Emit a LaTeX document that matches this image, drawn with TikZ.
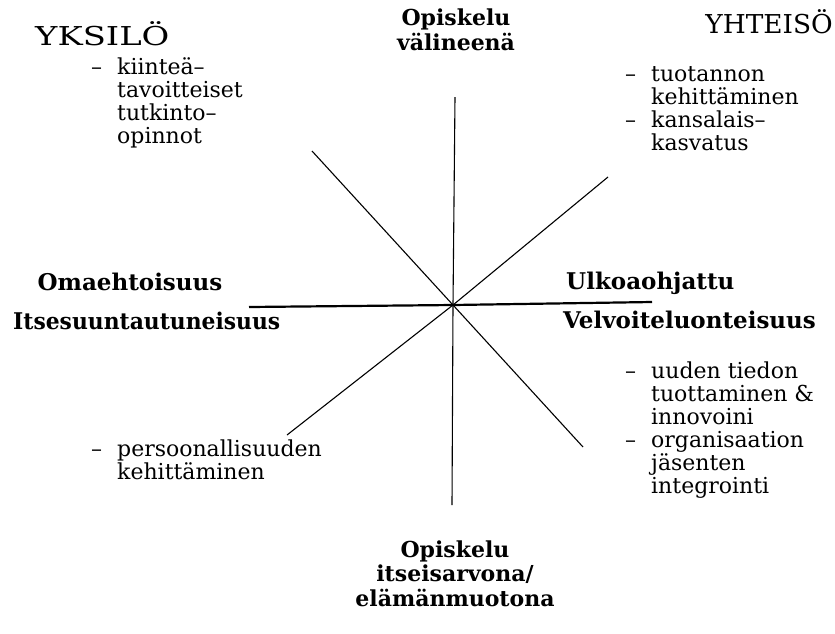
\documentclass[tikz,border=0pt]{standalone}
\usepackage{fontspec}
\setmainfont{DejaVu Serif}
\newfontfamily\titlefont[FakeStretch=1.3]{DejaVu Serif}
\begin{document}
\begin{tikzpicture}[x=1pt,y=-1pt,
  txt/.style={font=\fontsize{22}{23}\selectfont, align=left, inner sep=0pt, anchor=base west},
  hd/.style={font=\bfseries\fontsize{23}{24.5}\selectfont, inner sep=0pt},
  pole/.style={font=\bfseries\fontsize{22}{24.5}\selectfont, inner sep=0pt, align=center, anchor=base},
  ttl/.style={font=\titlefont\fontsize{26}{28}\selectfont, inner sep=0pt},
  axis/.style={line width=1.1pt},
  mainaxis/.style={line width=2.2pt}]
\useasboundingbox (0,0) rectangle (835,633);
% axes
\coordinate (c) at (453,305);
\coordinate (vt) at (455,97);
\coordinate (vb) at (452,505);
\coordinate (hl) at (249,307);
\coordinate (hr) at (652,302);
\coordinate (d1a) at (312,151);
\coordinate (d1b) at (583,447);
\coordinate (d2a) at (608,177);
\coordinate (d2b) at (287,435);
\draw[axis] (vt) -- (c) -- (vb);
\draw[axis] (d1a) -- (c) -- (d1b);
\draw[axis] (d2a) -- (c) -- (d2b);
\draw[mainaxis] (hl) -- (c) -- (hr);
% titles
\node[ttl, anchor=base west] (yksilo) at (35,45) {YKSILÖ};
\node[ttl, anchor=base east] (yhteiso) at (833,33) {\scalebox{0.78}[1]{YHTEISÖ}};
% pole labels (base = last line)
\node[pole] (top) at (456,50) {Opiskelu\\välineenä};
\node[pole] (bottom) at (455,606) {Opiskelu\\itseisarvona/\\elämänmuotona};
\node[hd, anchor=base] (oma) at (130,290) {Omaehtoisuus};
\node[hd, anchor=base west] (itse) at (13,329) {\scalebox{0.95}[1]{Itsesuuntautuneisuus}};
\node[hd, anchor=base west] (ulko) at (566,289) {Ulkoaohjattu};
\node[hd, anchor=base west] (velv) at (563,328) {Velvoiteluonteisuus};
% lists (base = last line)
\node[txt] (lt) at (117,143) {\llap{–\hspace{15pt}}kiinteä–\\tavoitteiset\\tutkinto–\\opinnot};
\node[txt] (rt) at (651,150) {\llap{–\hspace{15pt}}tuotannon\\kehittäminen\\\llap{–\hspace{15pt}}kansalais–\\kasvatus};
\node[txt] (rb) at (651,493) {\llap{–\hspace{15pt}}uuden tiedon\\tuottaminen \&\\innovoini\\\llap{–\hspace{15pt}}organisaation\\jäsenten\\integrointi};
\node[txt] (lb) at (117,479) {\llap{–\hspace{15pt}}persoonallisuuden\\kehittäminen};
\end{tikzpicture}
\end{document}
